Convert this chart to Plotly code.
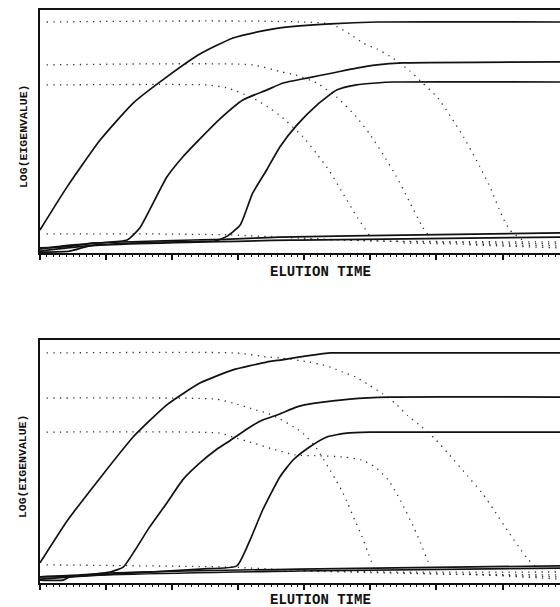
import plotly.graph_objects as go

# Evolving factor analysis of a chromatographic run.
# Time in scan units (major tick every 10 scans), values as log(eigenvalue).
X_MAX = 78.7
LOG_RANGE = [0.08, 10.0]

# ---------------- upper run ----------------
# forward eigenvalues (solid)
up_f1_t = [0, 4.1, 9.1, 14.1, 19.2, 24.2, 29.2, 34.3, 36.3, 43.9, 51.0, 78.7]
up_f1_v = [1.02, 2.78, 4.69, 6.20, 7.27, 8.20, 8.86, 9.18, 9.27, 9.43, 9.51, 9.51]
up_f2_t = [0, 3.5, 8.6, 13.2, 15.1, 16.6, 19.2, 21.6, 24.2, 27.2, 30.7, 34.3, 36.8, 40.4, 44.3, 47.9, 51.0, 54.9, 78.7]
up_f2_v = [0.24, 0.37, 0.49, 0.61, 1.10, 1.84, 3.18, 4.00, 4.74, 5.55, 6.33, 6.73, 7.02, 7.22, 7.43, 7.63, 7.76, 7.84, 7.88]
up_f3_t = [0, 8.6, 18.2, 26.5, 28.4, 30.3, 32.2, 34.3, 36.3, 38.9, 41.9, 44.9, 47.9, 50.9, 53.4, 78.7]
up_f3_v = [0.16, 0.41, 0.53, 0.57, 0.78, 1.22, 2.53, 3.47, 4.41, 5.31, 6.12, 6.73, 6.94, 7.02, 7.06, 7.06]
up_f4_t = [0, 3.5, 8.6, 28.7, 36.3, 57.5, 78.7]
up_f4_v = [0.29, 0.33, 0.49, 0.65, 0.73, 0.82, 0.90]
up_f5_t = [0, 4.5, 7.6, 39.3, 78.7]
up_f5_v = [0.12, 0.16, 0.37, 0.61, 0.73]

# backward eigenvalues (dotted)
up_b1_t = [1.0, 43.9, 46.9, 48.9, 51.0, 52.9, 54.0, 56.0, 57.9, 60.1, 62.2, 64.1, 66.1, 68.1, 70.0, 71.1, 73.4]
up_b1_v = [9.51, 9.43, 9.02, 8.65, 8.41, 8.12, 7.92, 7.51, 7.02, 6.45, 5.63, 4.82, 3.84, 2.78, 1.55, 1.02, 0.53]
up_b2_t = [1.0, 32.2, 36.6, 38.6, 41.9, 44.9, 47.9, 49.9, 51.9, 53.9, 55.8, 57.9, 59.0]
up_b2_v = [7.76, 7.76, 7.47, 7.35, 7.02, 6.45, 5.63, 4.94, 4.12, 3.22, 2.24, 1.14, 0.73]
up_b3_t = [1.0, 25.3, 28.3, 32.2, 34.5, 36.6, 39.8, 41.8, 43.9, 45.8, 47.8, 49.8]
up_b3_v = [6.94, 6.94, 6.82, 6.41, 6.04, 5.63, 4.82, 4.16, 3.39, 2.53, 1.63, 0.82]
up_n1_t = [1.0, 16.6, 28.7, 39.3, 51.4, 78.7]
up_n1_v = [0.86, 0.86, 0.82, 0.69, 0.57, 0.53]
up_n2_t = [40.0, 57.5, 78.7]
up_n2_v = [0.65, 0.53, 0.45]
up_n3_t = [55.0, 78.7]
up_n3_v = [0.49, 0.37]
up_n4_t = [65.0, 78.7]
up_n4_v = [0.41, 0.29]

# ---------------- lower run ----------------
lo_f1_t = [0, 4.1, 9.1, 14.1, 19.2, 24.2, 29.2, 34.3, 36.3, 43.9, 47.9, 78.7]
lo_f1_v = [0.90, 2.61, 4.37, 6.04, 7.35, 8.24, 8.78, 9.10, 9.18, 9.47, 9.47, 9.47]
lo_f2_t = [0, 6.1, 10.6, 12.6, 14.4, 16.6, 19.2, 21.6, 24.2, 26.8, 28.7, 31.8, 33.7, 36.3, 38.9, 41.9, 46.9, 52.9, 78.7]
lo_f2_v = [0.33, 0.41, 0.53, 0.73, 1.43, 2.37, 3.35, 4.29, 4.98, 5.55, 5.88, 6.45, 6.73, 6.98, 7.27, 7.43, 7.59, 7.67, 7.67]
lo_f3_t = [0, 9.1, 24.2, 29.8, 31.8, 33.7, 36.3, 38.3, 40.8, 43.4, 46.4, 49.9, 78.7]
lo_f3_v = [0.24, 0.41, 0.65, 0.78, 1.84, 3.06, 4.41, 5.10, 5.63, 6.04, 6.20, 6.24, 6.24]
lo_f4_t = [0, 6.1, 10.6, 39.3, 78.7]
lo_f4_v = [0.33, 0.37, 0.49, 0.65, 0.78]
lo_f5_t = [0, 3.5, 4.5, 39.3, 78.7]
lo_f5_v = [0.20, 0.20, 0.33, 0.57, 0.69]

lo_b1_t = [1.0, 29.7, 34.3, 36.3, 40.8, 42.8, 44.3, 45.8, 47.8, 49.8, 51.9, 53.7, 55.7, 57.8, 59.8, 61.7, 64.7, 66.9, 68.8, 70.8, 72.8, 73.8, 74.9]
lo_b1_v = [9.47, 9.47, 9.31, 9.27, 9.10, 8.98, 8.86, 8.69, 8.49, 8.16, 7.80, 7.43, 6.90, 6.45, 5.96, 5.39, 4.45, 3.76, 3.02, 2.20, 1.43, 1.06, 0.78]
lo_b2_t = [1.0, 26.5, 29.2, 32.2, 34.3, 36.3, 38.4, 39.6, 40.5, 41.6, 42.7, 43.6, 44.6, 45.7, 46.6, 47.7, 48.7, 49.6, 50.4]
lo_b2_v = [7.63, 7.59, 7.43, 7.18, 7.02, 6.78, 6.45, 6.24, 6.00, 5.67, 5.22, 4.82, 4.37, 3.84, 3.31, 2.61, 2.00, 1.35, 0.78]
lo_b3_t = [1.0, 27.2, 29.2, 32.2, 35.2, 38.6, 42.4, 46.1, 48.7, 50.7, 52.7, 54.6, 56.6, 57.6, 58.5, 59.0]
lo_b3_v = [6.24, 6.20, 6.04, 5.80, 5.55, 5.31, 5.27, 5.22, 5.10, 4.82, 4.29, 3.43, 2.33, 1.71, 1.10, 0.78]
lo_n1_t = [1.0, 28.7, 37.8, 51.4, 78.7]
lo_n1_v = [0.82, 0.73, 0.61, 0.53, 0.53]
lo_n2_t = [40.0, 60.0, 78.7]
lo_n2_v = [0.57, 0.45, 0.41]
lo_n3_t = [55.0, 78.7]
lo_n3_v = [0.49, 0.33]
lo_n4_t = [65.0, 78.7]
lo_n4_v = [0.45, 0.24]

X_LABEL = "ELUTION TIME"
Y_LABEL = "LOG(EIGENVALUE)"

INK = "#111111"
SOLID = dict(color=INK, width=1.7, shape="spline", smoothing=0.5)
DOTTED = dict(color="#333333", width=1.3, dash="1.3px,5.3px", shape="spline", smoothing=0.5)

panels = [
    ("x", "y",
     [(up_f1_t, up_f1_v), (up_f2_t, up_f2_v), (up_f3_t, up_f3_v), (up_f4_t, up_f4_v), (up_f5_t, up_f5_v)],
     [(up_b1_t, up_b1_v), (up_b2_t, up_b2_v), (up_b3_t, up_b3_v),
      (up_n1_t, up_n1_v), (up_n2_t, up_n2_v), (up_n3_t, up_n3_v), (up_n4_t, up_n4_v)]),
    ("x2", "y2",
     [(lo_f1_t, lo_f1_v), (lo_f2_t, lo_f2_v), (lo_f3_t, lo_f3_v), (lo_f4_t, lo_f4_v), (lo_f5_t, lo_f5_v)],
     [(lo_b1_t, lo_b1_v), (lo_b2_t, lo_b2_v), (lo_b3_t, lo_b3_v),
      (lo_n1_t, lo_n1_v), (lo_n2_t, lo_n2_v), (lo_n3_t, lo_n3_v), (lo_n4_t, lo_n4_v)]),
]

fig = go.Figure()
for xa, ya, forward, backward in panels:
    for t, v in backward:
        fig.add_trace(go.Scatter(x=t, y=v, mode="lines", line=DOTTED,
                                 xaxis=xa, yaxis=ya, hoverinfo="skip"))
    for t, v in forward:
        fig.add_trace(go.Scatter(x=t, y=v, mode="lines", line=SOLID,
                                 xaxis=xa, yaxis=ya, hoverinfo="skip"))

xcommon = dict(
    range=[0, X_MAX], showgrid=False, zeroline=False,
    showline=True, linecolor=INK, linewidth=2, mirror=True,
    ticks="outside", ticklen=5, tickwidth=1.5, tickcolor=INK,
    tick0=0, dtick=10, showticklabels=False,
    minor=dict(ticks="outside", ticklen=2, tickwidth=1, tickcolor=INK, dtick=1, tick0=0),
)
ycommon = dict(
    range=LOG_RANGE, showgrid=False, zeroline=False,
    showline=True, linecolor=INK, linewidth=2, mirror=False,
    ticks="", showticklabels=False,
)

label_font = dict(family="Liberation Mono, DejaVu Sans Mono, monospace", color=INK)

fig.update_layout(
    width=560, height=607,
    margin=dict(l=40, r=0, t=10, b=24),
    paper_bgcolor="white", plot_bgcolor="white",
    showlegend=False,
    xaxis=dict(domain=[0, 1], anchor="y", **xcommon),
    yaxis=dict(domain=[0.5759, 1.0], anchor="x", **ycommon),
    xaxis2=dict(domain=[0, 1], anchor="y2", **xcommon),
    yaxis2=dict(domain=[0.0, 0.4241], anchor="x2", **ycommon),
    annotations=[
        dict(text="<b>%s</b>" % X_LABEL, xref="paper", yref="paper", x=0.540, y=0.543,
             xanchor="center", yanchor="middle", showarrow=False, font=dict(size=14, **label_font)),
        dict(text="<b>%s</b>" % X_LABEL, xref="paper", yref="paper", x=0.540, y=-0.0297,
             xanchor="center", yanchor="middle", showarrow=False, font=dict(size=14, **label_font)),
        dict(text="<b>%s</b>" % Y_LABEL, xref="paper", yref="paper", x=-0.0327, y=0.780,
             xanchor="center", yanchor="middle", textangle=-90, showarrow=False,
             font=dict(size=11.5, **label_font)),
        dict(text="<b>%s</b>" % Y_LABEL, xref="paper", yref="paper", x=-0.0346, y=0.204,
             xanchor="center", yanchor="middle", textangle=-90, showarrow=False,
             font=dict(size=11.5, **label_font)),
    ],
)

fig.write_html("out.html")
